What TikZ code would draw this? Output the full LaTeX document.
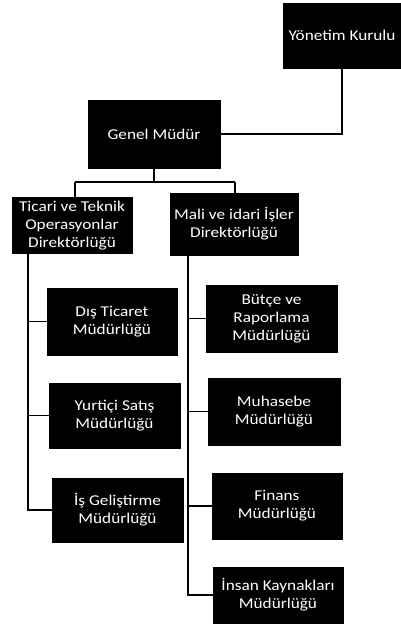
\documentclass[tikz,border=0pt]{standalone}
\usepackage{fontspec}
\newfontfamily\boxfont{Carlito}[FakeStretch=1.15]
\begin{document}
\begin{tikzpicture}[x=1pt,y=-1pt,
  orgbox/.style={fill=black,draw=black,text=white,inner sep=1pt,align=center,
    font=\boxfont\fontsize{15}{18}\selectfont},
  conn/.style={draw=black,line width=1.2pt}]
\useasboundingbox (0,0) rectangle (401,633);
\fill[white] (0,0) rectangle (401,633);
% boxes
\node[orgbox,minimum width=118,minimum height=65] (yk) at (342,35.5) {Yönetim Kurulu};
\node[orgbox,minimum width=132,minimum height=68] (gm) at (154,134) {Genel Müdür};
\node[orgbox,minimum width=120,minimum height=56] (tic) at (72,225.5) {Ticari ve Teknik\\Operasyonlar\\Direktörlüğü};
\node[orgbox,minimum width=128,minimum height=62] (mali) at (234,224) {Mali ve idari İşler\\Direktörlüğü};
\node[orgbox,minimum width=130,minimum height=67] (dis) at (112,321.5) {Dış Ticaret\\Müdürlüğü};
\node[orgbox,minimum width=131,minimum height=65] (yur) at (114.5,415.5) {Yurtiçi Satış\\Müdürlüğü};
\node[orgbox,minimum width=131,minimum height=64] (isg) at (117.5,510) {İş Geliştirme\\Müdürlüğü};
\node[orgbox,minimum width=131,minimum height=67] (but) at (271.5,318.5) {Bütçe ve\\Raporlama\\Müdürlüğü};
\node[orgbox,minimum width=132,minimum height=67] (muh) at (274,411.5) {Muhasebe\\Müdürlüğü};
\node[orgbox,minimum width=130,minimum height=66] (fin) at (277,506) {Finans\\Müdürlüğü};
\node[orgbox,minimum width=130,minimum height=56] (ik) at (278,595) {İnsan Kaynakları\\Müdürlüğü};
% top connectors
\draw[conn] (yk.south) |- (gm.east);
\coordinate (bar) at (154,182);
\draw[conn] (gm.south) -- (bar);
\draw[conn] (75,182) -- (235,182);
\draw[conn] (75,182) -- (75,197.5);
\draw[conn] (235,182) -- (235,193);
% left spine
\coordinate (ls) at (28,253.5);
\coordinate (le) at (28,510);
\draw[conn] (ls) -- (le) -- (isg.west);
\draw[conn] (28,321.5) -- (dis.west);
\draw[conn] (28,415.5) -- (yur.west);
% right spine
\coordinate (rs) at (188,255);
\coordinate (re) at (188,595);
\draw[conn] (rs) -- (re) -- (ik.west);
\draw[conn] (188,318.5) -- (but.west);
\draw[conn] (188,411.5) -- (muh.west);
\draw[conn] (188,506) -- (fin.west);
\end{tikzpicture}
\end{document}
